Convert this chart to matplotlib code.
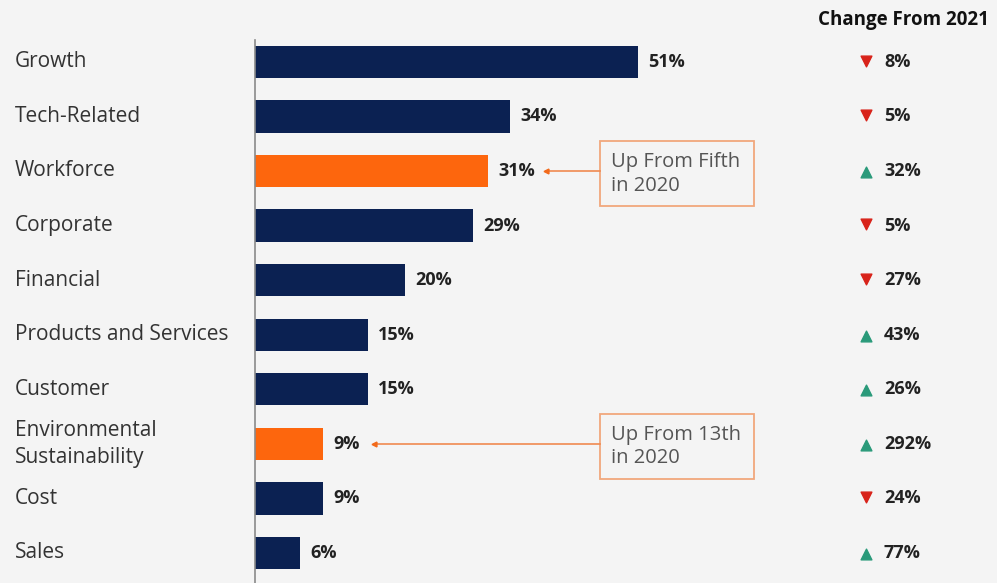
import matplotlib.pyplot as plt
import matplotlib.transforms as mtransforms
from matplotlib.patches import Rectangle

plt.rcParams['font.family'] = ['Open Sans', 'DejaVu Sans']

# data
categories = ['Growth', 'Tech-Related', 'Workforce', 'Corporate', 'Financial',
              'Products and Services', 'Customer', 'Environmental\nSustainability',
              'Cost', 'Sales']
values = [51, 34, 31, 29, 20, 15, 15, 9, 9, 6]
change = [8, 5, 32, 5, 27, 43, 26, 292, 24, 77]
direction = ['down', 'down', 'up', 'down', 'down', 'up', 'up', 'up', 'down', 'up']
highlight = ['Workforce', 'Environmental\nSustainability']
notes = {'Workforce': 'Up From Fifth\nin 2020',
         'Environmental\nSustainability': 'Up From 13th\nin 2020'}

bg = '#f4f4f4'
navy = '#0b2152'
orange = '#fd660d'
red = '#d8231a'
green = '#2a9a7a'
px = 7.51  # pixels per percent

fig = plt.figure(figsize=(9.97, 5.83), dpi=100, facecolor=bg)
ax = fig.add_axes([255/997, 0, 742/997, 1 - 40/583], facecolor=bg)

y = list(range(len(categories)))
colors = [orange if c in highlight else navy for c in categories]
ax.barh(y, values, height=0.59, color=colors)

ax.set_xlim(0, 742/px)
ax.set_ylim(9.55, -0.4)
for s in ['top', 'right', 'bottom']:
    ax.spines[s].set_visible(False)
ax.spines['left'].set_color('#8a8a8a')
ax.spines['left'].set_linewidth(1.2)
ax.set_xticks([])
ax.set_yticks([])

# category labels on the far left
lab_tr = mtransforms.blended_transform_factory(fig.transFigure, ax.transData)
for yi, c in zip(y, categories):
    ax.text(15/997, yi, c, transform=lab_tr, ha='left', va='center',
            fontsize=15, color='#333333', linespacing=1.4)

# value labels
for yi, v in zip(y, values):
    ax.annotate(f'{v}%', (v, yi), xytext=(7.5, 0), textcoords='offset points',
                ha='left', va='center', fontsize=13, fontweight='bold', color='#222222')

# change column
tri_x = (866 - 255) / px
txt_x = (884 - 255) / px
for yi, ch, d in zip(y, change, direction):
    if d == 'up':
        ax.scatter(tri_x, yi + 0.02, marker='^', s=60, color=green, clip_on=False)
    else:
        ax.scatter(tri_x, yi - 0.02, marker='v', s=60, color=red, clip_on=False)
    ax.text(txt_x, yi, f'{ch}%', ha='left', va='center', fontsize=13,
            fontweight='bold', color='#222222')

fig.text(903/997, 1 - 20/583, 'Change From 2021', ha='center', va='center',
         fontsize=13.5, fontweight='bold', color='#111111')

# callouts
box_x = (600 - 255) / px
box_w = 154 / px
for c, note in notes.items():
    yi = categories.index(c)
    v = values[yi]
    ax.add_patch(Rectangle((box_x, yi - 0.55), box_w, 1.2, facecolor=bg,
                           edgecolor='#f1a77c', linewidth=1.3))
    ax.text(box_x + 11/px, yi + 0.05, note, ha='left', va='center',
            fontsize=14.5, color='#555555', linespacing=1.25)
    x_end = v + (37 + 7 * len(f'{v}%')) / px
    ax.plot([x_end, box_x], [yi, yi], color='#f08a50', linewidth=1.2)
    ax.plot(x_end, yi, marker='<', markersize=3.5, color='#f26a1b')

fig.savefig('out.png', dpi=100, facecolor=bg)
